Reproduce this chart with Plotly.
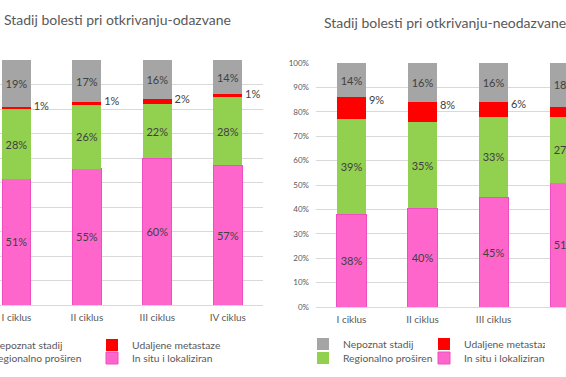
import plotly.graph_objects as go

categories = ["I ciklus", "II ciklus", "III ciklus", "IV ciklus"]
series_names = ["In situ i lokaliziran", "Regionalno proširen", "Udaljene metastaze", "Nepoznat stadij"]
series_colors = ["#FF66CC", "#92D050", "#FF0000", "#A5A5A5"]

# Chart 1: odazvane (responders), percentages
odazvane_in_situ = [51, 55, 60, 57]
odazvane_regionalno = [28, 26, 22, 28]
odazvane_udaljene = [1, 1, 2, 1]
odazvane_nepoznat = [19, 17, 16, 14]

# Chart 2: neodazvane (non-responders), percentages
neodazvane_in_situ = [38, 40, 45, 51]
neodazvane_regionalno = [39, 35, 33, 27]
neodazvane_udaljene = [9, 8, 6, 4]
neodazvane_nepoznat = [14, 16, 16, 18]

y_tick_values = [0, 10, 20, 30, 40, 50, 60, 70, 80, 90, 100]
y_tick_labels = ["0%", "10%", "20%", "30%", "40%", "50%", "60%", "70%", "80%", "90%", "100%"]
titles = ["Stadij bolesti pri otkrivanju-odazvane", "Stadij bolesti pri otkrivanju-neodazvane"]

FONT = "Lato"
TXT = "#595959"
LBL = "#404040"
W, H = 566, 377

def px(x):
    return x / W

def py(y):
    return 1 - y / H

fig = go.Figure()

charts = [
    dict(data=[odazvane_in_situ, odazvane_regionalno, odazvane_udaljene, odazvane_nepoznat],
         xa="x", ya="y", legends=["legend", "legend2"]),
    dict(data=[neodazvane_in_situ, neodazvane_regionalno, neodazvane_udaljene, neodazvane_nepoznat],
         xa="x2", ya="y2", legends=["legend3", "legend4"]),
]

xs = list(range(len(categories)))
bar_w = 0.41
legend_rank = {"Nepoznat stadij": 1, "Udaljene metastaze": 2, "Regionalno proširen": 3, "In situ i lokaliziran": 4}
row_of = {"Nepoznat stadij": 0, "Udaljene metastaze": 0, "Regionalno proširen": 1, "In situ i lokaliziran": 1}

for ch in charts:
    data = ch["data"]
    for name, color, vals in zip(series_names, series_colors, data):
        is_red = name == "Udaljene metastaze"
        is_pink = name == "In situ i lokaliziran"
        fig.add_trace(go.Bar(
            x=xs, y=vals, name=name, width=bar_w,
            marker=dict(color=color,
                        line=dict(width=1 if is_pink else 0, color="#EE4FC0")),
            text=None if is_red else [f"{v}%" for v in vals],
            textposition="inside", insidetextanchor="middle", textangle=0,
            constraintext="none",
            textfont=dict(family=FONT, size=11, color=LBL),
            xaxis=ch["xa"], yaxis=ch["ya"],
            legend=ch["legends"][row_of[name]], legendrank=legend_rank[name],
            hoverinfo="skip",
        ))
    # labels of the thin red segment, drawn beside the bar
    totals = [sum(c) for c in zip(*data)]
    mids = [(a + b + c * 0.8) / t * 100 for a, b, c, t in zip(data[0], data[1], data[2], totals)]
    fig.add_trace(go.Scatter(
        x=[x + bar_w / 2 + 0.04 for x in xs], y=mids, mode="text",
        text=[f"{v}%" for v in data[2]], textposition="middle right",
        textfont=dict(family=FONT, size=11, color=LBL),
        xaxis=ch["xa"], yaxis=ch["ya"], showlegend=False, hoverinfo="skip",
    ))

axis_common = dict(showgrid=False, zeroline=False, showline=False, ticks="",
                   tickvals=xs, ticktext=categories, ticklabelstandoff=5,
                   tickfont=dict(family=FONT, size=10, color=TXT), fixedrange=True)
yaxis_common = dict(range=[0, 100], tickvals=y_tick_values, ticktext=y_tick_labels,
                    showgrid=True, gridcolor="#D9D9D9", gridwidth=1,
                    zeroline=True, zerolinecolor="#D9D9D9", zerolinewidth=1,
                    showline=False, ticks="",
                    tickfont=dict(family=FONT, size=8, color=TXT), fixedrange=True)

leg_common = dict(orientation="h", bgcolor="rgba(0,0,0,0)", borderwidth=0,
                  font=dict(family=FONT, size=10.3, color=TXT), traceorder="normal",
                  yanchor="middle", itemwidth=30,
                  itemclick=False, itemdoubleclick=False)

fig.update_layout(
    width=W, height=H,
    margin=dict(l=0, r=0, t=0, b=0, autoexpand=False),
    paper_bgcolor="white", plot_bgcolor="white",
    barmode="stack", barnorm="percent",
    showlegend=True,
    xaxis=dict(domain=[0, px(263)], range=[-0.234, 3.5], anchor="y", **axis_common),
    yaxis=dict(domain=[py(305), py(60)], anchor="x", showticklabels=False, **yaxis_common),
    xaxis2=dict(domain=[px(316), 1.0], range=[-0.5, 3.02], anchor="y2", **axis_common),
    yaxis2=dict(domain=[py(307), py(63)], anchor="x2", ticklabelstandoff=6, **yaxis_common),
    legend=dict(x=px(232), xanchor="right", y=py(345), entrywidth=95, **leg_common),
    legend2=dict(x=px(232), xanchor="right", y=py(358), entrywidth=95, **leg_common),
    legend3=dict(x=px(303), xanchor="left", y=py(344), entrywidth=76, **leg_common),
    legend4=dict(x=px(303), xanchor="left", y=py(358), entrywidth=76, **leg_common),
    annotations=[
        dict(text=titles[0], xref="paper", yref="paper", x=px(2), y=py(20),
             xanchor="left", yanchor="middle", showarrow=False,
             font=dict(family=FONT, size=14, color=TXT)),
        dict(text=titles[1], xref="paper", yref="paper", x=px(322), y=py(23),
             xanchor="left", yanchor="middle", showarrow=False,
             font=dict(family=FONT, size=14, color=TXT)),
    ],
)

fig.write_html(
    "out.html",
    config={"displayModeBar": False},
    post_script="document.body.style.margin='0';document.body.style.overflow='hidden';",
)
